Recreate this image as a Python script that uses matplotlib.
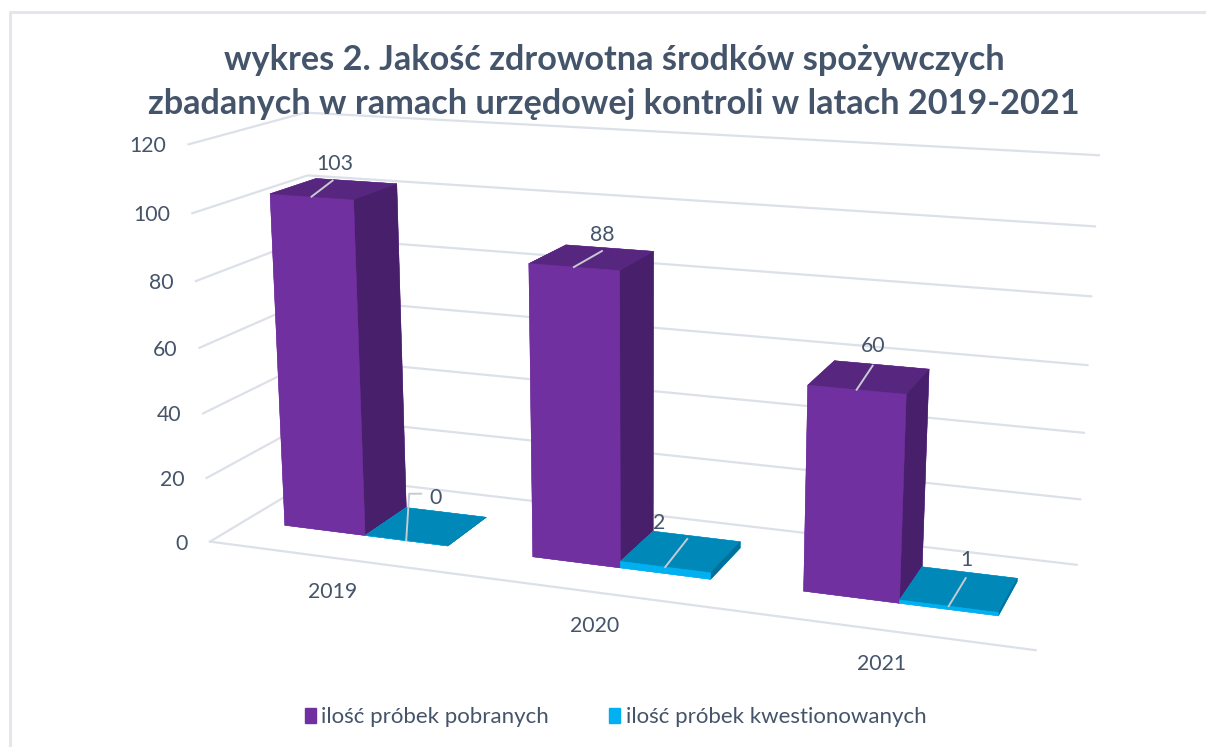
import matplotlib
matplotlib.use('Agg')
import matplotlib.pyplot as plt
from matplotlib.patches import Patch, Rectangle
from mpl_toolkits.mplot3d import proj3d

plt.rcParams['font.family'] = ['Lato', 'DejaVu Sans']

# dane
lata = ['2019', '2020', '2021']
pobrane = [103, 88, 60]
kwestionowane = [0, 2, 1]
ticks = [0, 20, 40, 60, 80, 100, 120]
tytul = 'wykres 2. Jakość zdrowotna środków spożywczych\nzbadanych w ramach urzędowej kontroli w latach 2019-2021'
nazwy = ['ilość próbek pobranych', 'ilość próbek kwestionowanych']

szary = '#44546A'
linia = '#DCE0E8'
W, H = 1206, 747

fig = plt.figure(figsize=(W / 100, H / 100), dpi=100, facecolor='white')

# ramka wykresu
fig.add_artist(Rectangle((9.5 / W, -0.1), 1.1, 1.1 - 12 / H, transform=fig.transFigure,
                         fill=False, ec='#E3E6EA', lw=2.2))

# kamera dopasowana do oryginalu
size = 954.4
skala = 5159.07
ax = fig.add_axes([146.2 / W, (H - 846.4) / H, size / W, size / H], projection='3d', computed_zorder=False)
ax.set_xlim(0, 3)
ax.set_ylim(0, 1)
ax.set_zlim(0, 120)
ax.view_init(14.54, -69.87, 0.04)
ax.set_proj_type('persp', focal_length=0.413)
ax.set_box_aspect((2.0606, 0.5722, 1))
ax.set_axis_off()
ax.patch.set_visible(False)
M = ax.get_proj()

y0, y1 = 0.304, 0.713
szer = 1 / 3


def podpis(x, y, z, tekst, dx, dy, ha='center'):
    u, w, _ = proj3d.proj_transform(x, y, z, M)
    ax.annotate(tekst, xy=(u, w), xytext=(dx, dy), textcoords='offset pixels', ha=ha, va='center',
                fontsize=15.3, color=szary, zorder=21, annotation_clip=False)


# siatka na scianach
for t in ticks:
    ax.plot([0, 0, 3], [0, 1, 1], [t, t, t], color=linia, lw=1.6, zorder=1)
    podpis(0, 0, t, str(t), -22, -2, ha='right')
ax.plot([0, 3], [0, 0], [0, 0], color=linia, lw=1.6, zorder=1)

# slupki: dol, gora, przod, tyl, lewa, prawa
kol_p = ['#7030A0', '#57267F', '#7030A0', '#7030A0', '#7030A0', '#471F6B']
kol_k = ['#00B0F0', '#0088B8', '#00B0F0', '#00B0F0', '#00B0F0', '#006F99']
for i in range(3):
    ax.bar3d(i + 1 / 6, y0, 0, szer, y1 - y0, pobrane[i], color=kol_p, edgecolor=kol_p, linewidth=0.3,
             shade=False, zorder=2 + i)
    ax.bar3d(i + 1 / 2, y0, 0, szer, y1 - y0, kwestionowane[i], color=kol_k, edgecolor=kol_k, linewidth=0.3,
             shade=False, zorder=2.5 + i)
    podpis(i + 0.5, 0, 0, lata[i], 0, -34)

# etykiety z liniami odniesienia
wart = [pobrane[0], kwestionowane[0], pobrane[1], kwestionowane[1], pobrane[2], kwestionowane[2]]
srodki = [1 / 3, 2 / 3, 4 / 3, 5 / 3, 7 / 3, 8 / 3]
linie = [[(0, 0), (21, 16)], [(0, 0), (3, 47), (15, 47)], [(0, 0), (28, 16)],
         [(0, 0), (22, 28)], [(0, 0), (16, 24)], [(0, 0), (17, 28)]]
etykiety = [(23, 33), (29, 43), (28, 32), (-6, 44), (17, 44), (18, 46)]
for xc, v, tor, lab in zip(srodki, wart, linie, etykiety):
    u, w, _ = proj3d.proj_transform(xc, y0, v, M)
    ax.add_line(plt.Line2D([u + p[0] / skala for p in tor], [w + p[1] / skala for p in tor],
                           color='#C5CAD3', lw=1.4, zorder=20, clip_on=False))
    podpis(xc, y0, v, str(v), lab[0], lab[1])

fig.text(614 / W, 1 - 82 / H, tytul, ha='center', va='center', fontsize=24.7, fontweight='bold', color=szary,
         linespacing=1.5)

uchwyty = [Patch(color='#7030A0'), Patch(color='#00B0F0')]
fig.legend(uchwyty, nazwy, loc='center', bbox_to_anchor=(615.5 / W, 1 - 717 / H), ncol=2, frameon=False, fontsize=16,
           labelcolor=szary, handlelength=0.5, handleheight=0.65, handletextpad=0.25, columnspacing=2.7)

fig.savefig('out.png', dpi=100)
